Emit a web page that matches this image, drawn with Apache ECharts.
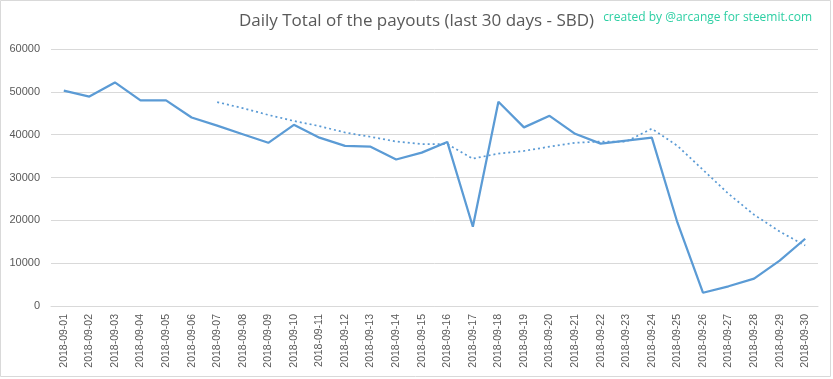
<!DOCTYPE html>
<html>
<head>
<meta charset="utf-8">
<script src="https://cdn.jsdelivr.net/npm/echarts@6/dist/echarts.min.js"></script>
<style>
html,body{margin:0;padding:0;background:#fff;}
#c{width:833px;height:379px;}
</style>
</head>
<body>
<div id="c"></div>
<script>
const categories = ['2018-09-01','2018-09-02','2018-09-03','2018-09-04','2018-09-05','2018-09-06','2018-09-07','2018-09-08','2018-09-09','2018-09-10','2018-09-11','2018-09-12','2018-09-13','2018-09-14','2018-09-15','2018-09-16','2018-09-17','2018-09-18','2018-09-19','2018-09-20','2018-09-21','2018-09-22','2018-09-23','2018-09-24','2018-09-25','2018-09-26','2018-09-27','2018-09-28','2018-09-29','2018-09-30'];
const payouts = [50300,48900,52200,48000,48000,44000,42100,40100,38100,42300,39300,37400,37200,34200,35800,38300,18500,47700,41700,44400,40200,37900,38600,39300,19500,3100,4600,6400,10600,15700];
const trend = [null,null,null,null,null,null,47600,46200,44600,43200,42000,40500,39500,38400,37800,37800,34400,35600,36200,37200,38100,38400,38400,41400,37400,31800,26200,21300,17400,14100];
const yTicks = [0,10000,20000,30000,40000,50000,60000];

const chart = echarts.init(document.getElementById('c'), null, {renderer:'canvas'});
chart.setOption({
  backgroundColor:'#ffffff',
  animation:false,
  title:[{
    text:'Daily Total of the payouts (last 30 days - SBD)',
    left:'center', top:8,
    textStyle:{color:'#595959', fontSize:17, fontWeight:'normal', fontFamily:'Open Sans, Lato, sans-serif'}
  },{
    text:'created by @arcange for steemit.com',
    right:16, top:7,
    textStyle:{color:'#2ccfa3', fontSize:12, fontWeight:'normal', fontFamily:'Open Sans, Lato, sans-serif'}
  }],
  graphic:[{
    type:'rect', shape:{x:0.5,y:0.5,width:830,height:376},
    style:{fill:'none', stroke:'#d9d9d9', lineWidth:1}, silent:true
  }],
  grid:{left:51, right:15, top:49, bottom:73, containLabel:false},
  xAxis:{
    type:'category', data:categories, boundaryGap:true,
    axisLine:{show:true, lineStyle:{color:'#d9d9d9'}},
    axisTick:{show:false},
    axisLabel:{rotate:90, interval:0, color:'#595959', fontSize:10.5, fontFamily:'Liberation Sans, Arial, sans-serif', margin:8}
  },
  yAxis:{
    type:'value', min:yTicks[0], max:yTicks[yTicks.length-1], interval:10000,
    axisLine:{show:false}, axisTick:{show:false},
    splitLine:{lineStyle:{color:'#d9d9d9', width:1}},
    axisLabel:{color:'#595959', fontSize:11, fontFamily:'Liberation Sans, Arial, sans-serif', margin:11,
      formatter:function(v){return String(v);}}
  },
  series:[{
    name:'Payouts', type:'line', data:payouts, symbol:'none',
    lineStyle:{color:'#5b9bd5', width:2.25}, itemStyle:{color:'#5b9bd5'}
  },{
    name:'Trend', type:'line', data:trend, symbol:'none', connectNulls:false,
    lineStyle:{color:'#5b9bd5', width:1.75, type:[2,3]}, itemStyle:{color:'#5b9bd5'}
  }]
});
</script>
</body>
</html>
